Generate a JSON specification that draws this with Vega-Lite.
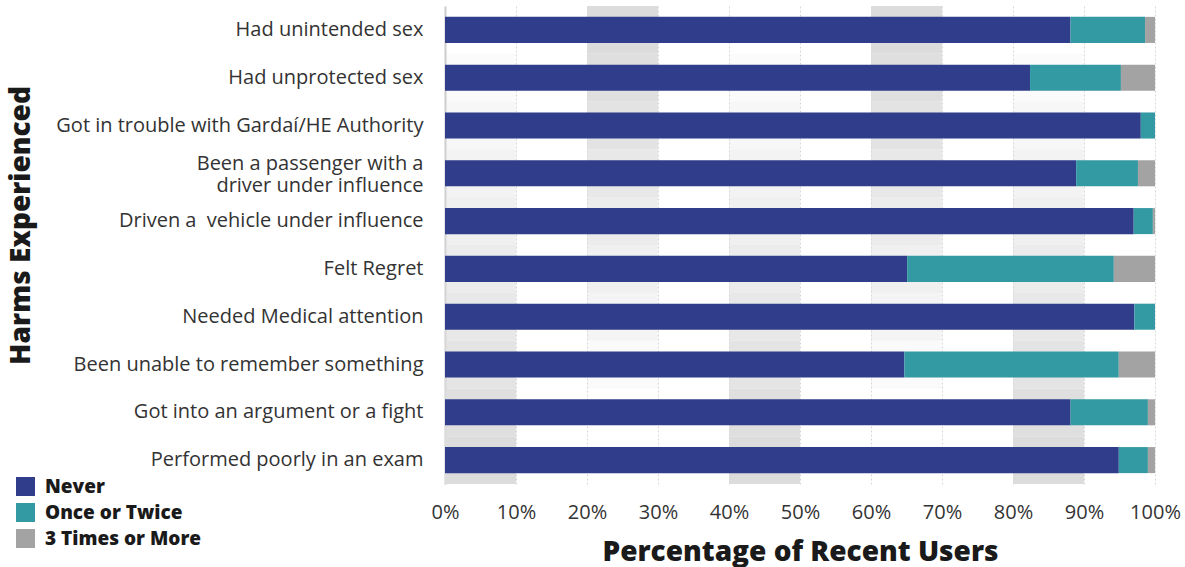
{
  "$schema": "https://vega.github.io/schema/vega-lite/v6.json",
  "autosize": "none",
  "width": 710,
  "height": 478,
  "padding": {"left": 445, "top": 6, "right": 30, "bottom": 83},
  "background": "white",
  "config": {
    "view": {"stroke": null},
    "font": "Open Sans"
  },
  "datasets": {
    "bars": [
      {"harm": "Had unintended sex", "freq": "Never", "k": 1, "pct": 88.1},
      {"harm": "Had unintended sex", "freq": "Once or Twice", "k": 2, "pct": 10.5},
      {"harm": "Had unintended sex", "freq": "3 Times or More", "k": 3, "pct": 1.4},
      {"harm": "Had unprotected sex", "freq": "Never", "k": 1, "pct": 82.4},
      {"harm": "Had unprotected sex", "freq": "Once or Twice", "k": 2, "pct": 12.8},
      {"harm": "Had unprotected sex", "freq": "3 Times or More", "k": 3, "pct": 4.8},
      {"harm": "Got in trouble with Gardaí/HE Authority", "freq": "Never", "k": 1, "pct": 98.0},
      {"harm": "Got in trouble with Gardaí/HE Authority", "freq": "Once or Twice", "k": 2, "pct": 2.0},
      {"harm": "Got in trouble with Gardaí/HE Authority", "freq": "3 Times or More", "k": 3, "pct": 0},
      {"harm": "Been a passenger with a driver under influence", "freq": "Never", "k": 1, "pct": 88.9},
      {"harm": "Been a passenger with a driver under influence", "freq": "Once or Twice", "k": 2, "pct": 8.7},
      {"harm": "Been a passenger with a driver under influence", "freq": "3 Times or More", "k": 3, "pct": 2.4},
      {"harm": "Driven a  vehicle under influence", "freq": "Never", "k": 1, "pct": 97.0},
      {"harm": "Driven a  vehicle under influence", "freq": "Once or Twice", "k": 2, "pct": 2.7},
      {"harm": "Driven a  vehicle under influence", "freq": "3 Times or More", "k": 3, "pct": 0.3},
      {"harm": "Felt Regret", "freq": "Never", "k": 1, "pct": 65.1},
      {"harm": "Felt Regret", "freq": "Once or Twice", "k": 2, "pct": 29.1},
      {"harm": "Felt Regret", "freq": "3 Times or More", "k": 3, "pct": 5.8},
      {"harm": "Needed Medical attention", "freq": "Never", "k": 1, "pct": 97.1},
      {"harm": "Needed Medical attention", "freq": "Once or Twice", "k": 2, "pct": 2.9},
      {"harm": "Needed Medical attention", "freq": "3 Times or More", "k": 3, "pct": 0},
      {"harm": "Been unable to remember something", "freq": "Never", "k": 1, "pct": 64.7},
      {"harm": "Been unable to remember something", "freq": "Once or Twice", "k": 2, "pct": 30.2},
      {"harm": "Been unable to remember something", "freq": "3 Times or More", "k": 3, "pct": 5.1},
      {"harm": "Got into an argument or a fight", "freq": "Never", "k": 1, "pct": 88.1},
      {"harm": "Got into an argument or a fight", "freq": "Once or Twice", "k": 2, "pct": 10.9},
      {"harm": "Got into an argument or a fight", "freq": "3 Times or More", "k": 3, "pct": 1.0},
      {"harm": "Performed poorly in an exam", "freq": "Never", "k": 1, "pct": 94.9},
      {"harm": "Performed poorly in an exam", "freq": "Once or Twice", "k": 2, "pct": 4.1},
      {"harm": "Performed poorly in an exam", "freq": "3 Times or More", "k": 3, "pct": 1.0}
    ],
    "bg": [
      {"harm": "Had unintended sex", "a": 20, "b": 30, "level": 1.0},
      {"harm": "Had unintended sex", "a": 60, "b": 70, "level": 1.0},
      {"harm": "Had unprotected sex", "a": 20, "b": 30, "level": 0.9},
      {"harm": "Had unprotected sex", "a": 60, "b": 70, "level": 0.9},
      {"harm": "Had unprotected sex", "a": 0, "b": 10, "level": 0.1},
      {"harm": "Had unprotected sex", "a": 40, "b": 50, "level": 0.1},
      {"harm": "Had unprotected sex", "a": 80, "b": 90, "level": 0.1},
      {"harm": "Got in trouble with Gardaí/HE Authority", "a": 20, "b": 30, "level": 0.8},
      {"harm": "Got in trouble with Gardaí/HE Authority", "a": 60, "b": 70, "level": 0.8},
      {"harm": "Got in trouble with Gardaí/HE Authority", "a": 0, "b": 10, "level": 0.23},
      {"harm": "Got in trouble with Gardaí/HE Authority", "a": 40, "b": 50, "level": 0.23},
      {"harm": "Got in trouble with Gardaí/HE Authority", "a": 80, "b": 90, "level": 0.23},
      {"harm": "Been a passenger with a driver under influence", "a": 20, "b": 30, "level": 0.65},
      {"harm": "Been a passenger with a driver under influence", "a": 60, "b": 70, "level": 0.65},
      {"harm": "Been a passenger with a driver under influence", "a": 0, "b": 10, "level": 0.35},
      {"harm": "Been a passenger with a driver under influence", "a": 40, "b": 50, "level": 0.35},
      {"harm": "Been a passenger with a driver under influence", "a": 80, "b": 90, "level": 0.35},
      {"harm": "Driven a  vehicle under influence", "a": 20, "b": 30, "level": 0.55},
      {"harm": "Driven a  vehicle under influence", "a": 60, "b": 70, "level": 0.55},
      {"harm": "Driven a  vehicle under influence", "a": 0, "b": 10, "level": 0.43},
      {"harm": "Driven a  vehicle under influence", "a": 40, "b": 50, "level": 0.43},
      {"harm": "Driven a  vehicle under influence", "a": 80, "b": 90, "level": 0.43},
      {"harm": "Felt Regret", "a": 20, "b": 30, "level": 0.43},
      {"harm": "Felt Regret", "a": 60, "b": 70, "level": 0.43},
      {"harm": "Felt Regret", "a": 0, "b": 10, "level": 0.55},
      {"harm": "Felt Regret", "a": 40, "b": 50, "level": 0.55},
      {"harm": "Felt Regret", "a": 80, "b": 90, "level": 0.55},
      {"harm": "Needed Medical attention", "a": 20, "b": 30, "level": 0.3},
      {"harm": "Needed Medical attention", "a": 60, "b": 70, "level": 0.3},
      {"harm": "Needed Medical attention", "a": 0, "b": 10, "level": 0.65},
      {"harm": "Needed Medical attention", "a": 40, "b": 50, "level": 0.65},
      {"harm": "Needed Medical attention", "a": 80, "b": 90, "level": 0.65},
      {"harm": "Been unable to remember something", "a": 20, "b": 30, "level": 0.15},
      {"harm": "Been unable to remember something", "a": 60, "b": 70, "level": 0.15},
      {"harm": "Been unable to remember something", "a": 0, "b": 10, "level": 0.77},
      {"harm": "Been unable to remember something", "a": 40, "b": 50, "level": 0.77},
      {"harm": "Been unable to remember something", "a": 80, "b": 90, "level": 0.77},
      {"harm": "Got into an argument or a fight", "a": 0, "b": 10, "level": 0.9},
      {"harm": "Got into an argument or a fight", "a": 40, "b": 50, "level": 0.9},
      {"harm": "Got into an argument or a fight", "a": 80, "b": 90, "level": 0.9},
      {"harm": "Performed poorly in an exam", "a": 0, "b": 10, "level": 1.0},
      {"harm": "Performed poorly in an exam", "a": 40, "b": 50, "level": 1.0},
      {"harm": "Performed poorly in an exam", "a": 80, "b": 90, "level": 1.0}
    ]
  },
  "encoding": {
    "y": {
      "field": "harm",
      "type": "nominal",
      "scale": {
        "domain": ["Had unintended sex", "Had unprotected sex", "Got in trouble with Gardaí/HE Authority", "Been a passenger with a driver under influence", "Driven a  vehicle under influence", "Felt Regret", "Needed Medical attention", "Been unable to remember something", "Got into an argument or a fight", "Performed poorly in an exam"],
        "paddingInner": 0,
        "paddingOuter": 0
      },
      "axis": {
        "title": "Harms Experienced",
        "titleFont": "Open Sans",
        "titleFontWeight": 800,
        "titleFontSize": 28,
        "titleColor": "#1a1a1a",
        "titleAngle": -90,
        "titleX": -424,
        "titleY": 219,
        "titleAlign": "center",
        "titleBaseline": "middle",
        "labelFont": "Open Sans",
        "labelFontSize": 20,
        "labelColor": "#333333",
        "labelPadding": 22,
        "labelLineHeight": 22,
        "labelLimit": 450,
        "labelExpr": "datum.label == 'Been a passenger with a driver under influence' ? ['Been a passenger with a', 'driver under influence'] : replace(datum.label, '  ', ' \u00a0')",
        "labelOffset": {
          "condition": {"test": "datum.value == 'Been a passenger with a driver under influence'", "value": -9},
          "value": 0
        },
        "ticks": false,
        "domain": true,
        "domainColor": "#cccccc",
        "domainWidth": 2
      }
    }
  },
  "layer": [
    {
      "data": {"name": "bg"},
      "mark": {"type": "bar", "height": {"band": 1}, "color": "#dcdcdc", "stroke": null},
      "encoding": {
        "x": {
          "field": "a",
          "type": "quantitative",
          "scale": {"domain": [0, 100], "nice": false},
          "axis": {
            "values": [0, 10, 20, 30, 40, 50, 60, 70, 80, 90, 100],
            "labelExpr": "datum.value + '%'",
            "labelFlush": false,
            "labelOverlap": false,
            "labelFont": "Open Sans",
            "labelFontSize": 20,
            "labelColor": "#333333",
            "labelPadding": 18,
            "ticks": false,
            "domain": false,
            "grid": true,
            "gridColor": "#d8d8d8",
            "gridDash": [2, 2],
            "gridWidth": 1,
            "title": "Percentage of Recent Users",
            "titleFont": "Open Sans",
            "titleFontWeight": 800,
            "titleFontSize": 28,
            "titleColor": "#1a1a1a",
            "titlePadding": 16
          }
        },
        "x2": {"field": "b"},
        "opacity": {"field": "level", "type": "quantitative", "scale": {"domain": [0, 1], "range": [0, 1]}, "legend": null}
      }
    },
    {
      "data": {"name": "bars"},
      "mark": {"type": "bar", "height": {"band": 0.545}},
      "encoding": {
        "x": {"field": "pct", "type": "quantitative", "stack": "zero"},
        "order": {"field": "k", "type": "quantitative"},
        "color": {
          "field": "freq",
          "type": "nominal",
          "scale": {
            "domain": ["Never", "Once or Twice", "3 Times or More"],
            "range": ["#2f3d8b", "#3399a3", "#a3a3a3"]
          },
          "legend": {
            "title": null,
            "orient": "none",
            "legendX": -429,
            "legendY": 471,
            "symbolType": "square",
            "symbolSize": 361,
            "symbolStrokeWidth": 0,
            "symbolOpacity": 1,
            "labelFont": "Open Sans",
            "labelFontWeight": 800,
            "labelFontSize": 19,
            "labelColor": "#1a1a1a",
            "labelOffset": 10,
            "labelLimit": 400,
            "rowPadding": 6
          }
        }
      }
    }
  ]
}
